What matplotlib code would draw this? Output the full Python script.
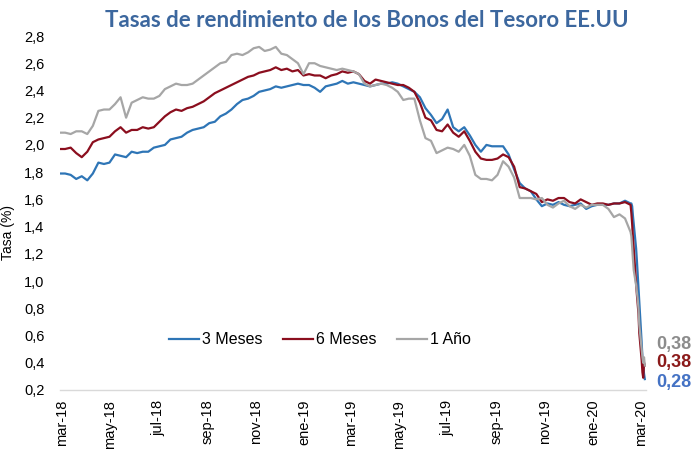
import pandas as pd
import matplotlib
matplotlib.use("Agg")
import matplotlib.pyplot as plt
import matplotlib.dates as mdates
from matplotlib.ticker import FixedLocator, FuncFormatter

plt.rcParams['font.family'] = ['Liberation Sans', 'DejaVu Sans']

# Fechas: semanal hasta mediados de feb-20, luego diario en la caida
fechas = list(pd.date_range('2018-02-26', '2020-02-17', freq='7D')) + \
    list(pd.bdate_range('2020-02-18', '2020-03-06'))

# Tasas (%)
tasa_3m = [
    1.79, 1.79, 1.78, 1.75, 1.77, 1.74, 1.79, 1.87, 1.86, 1.87,
    1.93, 1.92, 1.91, 1.95, 1.94, 1.95, 1.95, 1.98, 1.99, 2.00,
    2.04, 2.05, 2.06, 2.09, 2.11, 2.12, 2.13, 2.16, 2.17, 2.21,
    2.23, 2.26, 2.30, 2.33, 2.34, 2.36, 2.39, 2.40, 2.41, 2.43,
    2.42, 2.43, 2.44, 2.45, 2.44, 2.44, 2.42, 2.39, 2.43, 2.44,
    2.45, 2.47, 2.45, 2.46, 2.45, 2.44, 2.43, 2.44, 2.45, 2.45,
    2.46, 2.45, 2.43, 2.41, 2.39, 2.35, 2.27, 2.22, 2.16, 2.19,
    2.26, 2.13, 2.10, 2.13, 2.07, 2.00, 1.95, 2.00, 1.99, 1.99,
    1.99, 1.93, 1.82, 1.72, 1.68, 1.66, 1.60, 1.55, 1.57, 1.56,
    1.58, 1.56, 1.55, 1.56, 1.57, 1.53, 1.55, 1.56, 1.56, 1.56,
    1.57, 1.57, 1.59, 1.57,
    1.57, 1.55, 1.48, 1.42, 1.24, 1.15, 1.05, 0.95, 0.85, 0.55,
    0.44, 0.38, 0.32, 0.28,
]
tasa_6m = [
    1.97, 1.97, 1.98, 1.94, 1.91, 1.95, 2.02, 2.04, 2.05, 2.06,
    2.10, 2.13, 2.09, 2.11, 2.11, 2.13, 2.12, 2.13, 2.17, 2.21,
    2.24, 2.26, 2.25, 2.27, 2.28, 2.30, 2.32, 2.35, 2.38, 2.40,
    2.42, 2.44, 2.46, 2.48, 2.50, 2.51, 2.53, 2.54, 2.55, 2.57,
    2.55, 2.56, 2.54, 2.55, 2.51, 2.52, 2.51, 2.51, 2.49, 2.51,
    2.52, 2.54, 2.53, 2.54, 2.52, 2.47, 2.45, 2.48, 2.47, 2.46,
    2.45, 2.44, 2.44, 2.42, 2.39, 2.31, 2.20, 2.18, 2.11, 2.10,
    2.15, 2.09, 2.06, 2.10, 2.03, 1.95, 1.90, 1.89, 1.89, 1.90,
    1.93, 1.91, 1.84, 1.69, 1.68, 1.66, 1.64, 1.58, 1.60, 1.59,
    1.61, 1.61, 1.58, 1.57, 1.60, 1.58, 1.56, 1.57, 1.57, 1.56,
    1.57, 1.57, 1.58, 1.56,
    1.50, 1.42, 1.32, 1.24, 0.98, 0.90, 0.83, 0.76, 0.62, 0.42,
    0.33, 0.29, 0.40, 0.38,
]
tasa_1a = [
    2.09, 2.09, 2.08, 2.10, 2.10, 2.08, 2.14, 2.25, 2.26, 2.26,
    2.30, 2.35, 2.20, 2.31, 2.33, 2.35, 2.34, 2.34, 2.36, 2.41,
    2.43, 2.45, 2.44, 2.44, 2.45, 2.48, 2.51, 2.54, 2.57, 2.60,
    2.61, 2.66, 2.67, 2.66, 2.68, 2.71, 2.72, 2.69, 2.70, 2.72,
    2.67, 2.66, 2.63, 2.60, 2.52, 2.60, 2.60, 2.58, 2.57, 2.56,
    2.55, 2.56, 2.55, 2.54, 2.52, 2.45, 2.43, 2.44, 2.45, 2.44,
    2.42, 2.39, 2.33, 2.34, 2.34, 2.18, 2.05, 2.03, 1.94, 1.96,
    1.98, 1.97, 1.95, 2.00, 1.92, 1.78, 1.75, 1.75, 1.74, 1.78,
    1.88, 1.84, 1.76, 1.61, 1.61, 1.61, 1.60, 1.61, 1.56, 1.54,
    1.57, 1.59, 1.55, 1.53, 1.56, 1.54, 1.56, 1.56, 1.56, 1.53,
    1.47, 1.49, 1.46, 1.36,
    1.33, 1.25, 1.16, 1.08, 0.97, 0.92, 0.87, 0.80, 0.68, 0.50,
    0.44, 0.40, 0.44, 0.38,
]

series = ['3 Meses', '6 Meses', '1 Año']
colores = ['#2e75b6', '#8b0e1e', '#a6a6a6']
colores_etiqueta = ['#4472c4', '#8b1a1a', '#8c8c8c']
meses = {1: 'ene', 3: 'mar', 5: 'may', 7: 'jul', 9: 'sep', 11: 'nov'}
ticks_x = pd.date_range('2018-03-01', '2020-03-01', freq='2MS')
ticks_y = [0.2, 0.4, 0.6, 0.8, 1.0, 1.2, 1.4, 1.6, 1.8, 2.0, 2.2, 2.4, 2.6, 2.8]

fig = plt.figure(figsize=(6.96, 4.54), dpi=100)
ax = fig.add_axes([0.0856, 0.141, 0.842, 0.7797])

datos = [tasa_3m, tasa_6m, tasa_1a]
for nombre, valores, color in zip(series, datos, colores):
    ax.plot(fechas, valores, color=color, linewidth=1.6, label=nombre)

# Etiquetas del ultimo valor
desplaz = [-2.7, 2, 15]
for valores, color, dy in zip(datos, colores_etiqueta, desplaz):
    ax.annotate(f"{valores[-1]:.2f}".replace('.', ','), xy=(fechas[-1], valores[-1]),
                xytext=(8, dy), textcoords='offset points', ha='left', va='center',
                color=color, fontsize=13, fontweight='bold', annotation_clip=False)

ax.set_xlim(pd.Timestamp('2018-02-26'), pd.Timestamp('2020-03-07'))
ax.set_ylim(0.2, 2.8)

ax.xaxis.set_major_locator(FixedLocator(mdates.date2num(ticks_x)))
ax.xaxis.set_major_formatter(FuncFormatter(
    lambda v, p: f"{meses[mdates.num2date(v).month]}-{mdates.num2date(v).year % 100:02d}"))
ax.set_yticks(ticks_y)
ax.yaxis.set_major_formatter(FuncFormatter(lambda v, p: f"{v:.1f}".replace('.', ',')))
ax.tick_params(axis='x', length=0, pad=7, labelsize=10.5, labelrotation=90)
ax.tick_params(axis='y', length=0, pad=10.8, labelsize=10.5)

for lado in ['left', 'right', 'top']:
    ax.spines[lado].set_visible(False)
ax.spines['bottom'].set_color('#d9d9d9')
ax.spines['bottom'].set_linewidth(1)

fig.text(8 / 696, 1 - 233 / 454, 'Tasa (%)', rotation=90, ha='center', va='center',
         fontsize=10)

fig.text(367 / 696, 1 - 27 / 454, 'Tasas de rendimiento de los Bonos del Tesoro EE.UU',
         ha='center', va='baseline', fontsize=16, fontweight='bold', color='#3c679e',
         family='Lato')

ax.legend(loc='center', bbox_to_anchor=(320 / 696, 1 - 340 / 454),
          bbox_transform=fig.transFigure, ncol=3, frameon=False, fontsize=11.5,
          handlelength=1.9, handletextpad=0.2, columnspacing=1.25)

fig.savefig('out.png', dpi=100)
